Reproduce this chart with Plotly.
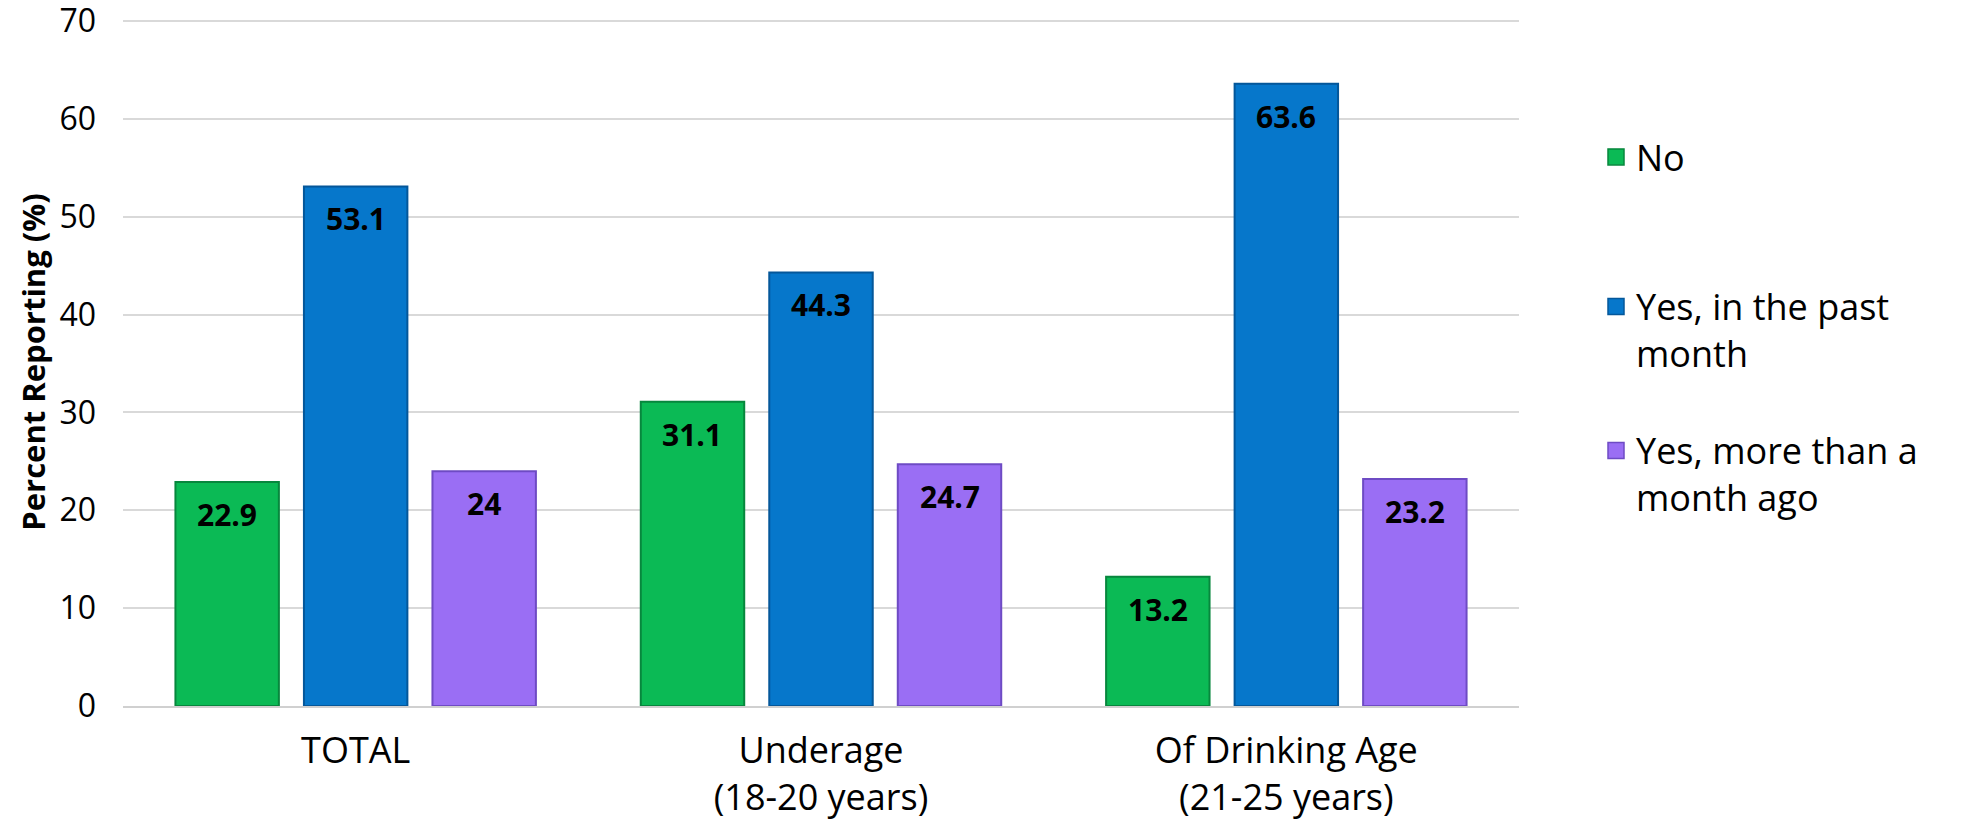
import plotly.graph_objects as go

# Survey groups and reported percentages
groups = ["TOTAL", "Underage<br>(18-20 years)", "Of Drinking Age<br>(21-25 years)"]
series_names = ["No", "Yes, in the past<br>month", "Yes, more than a<br>month ago"]
no_vals = [22.9, 31.1, 13.2]
past_month_vals = [53.1, 44.3, 63.6]
over_month_vals = [24, 24.7, 23.2]
y_ticks = [0, 10, 20, 30, 40, 50, 60, 70]

series_values = [no_vals, past_month_vals, over_month_vals]
fill_colors = ["#0BBA55", "#0677CB", "#9A6EF4"]
edge_colors = ["#07873D", "#04579A", "#6E4BC4"]
legend_ids = ["legend", "legend2", "legend3"]

FONT = "Open Sans"
W, H = 1969, 821
M_L, M_R, M_T, M_B = 123, 450, 18, 115
BARGAP, GROUPGAP = 0.1715, 0.195

plot_w = W - M_L - M_R
plot_h = H - M_T - M_B
# headroom of 3px above the top gridline so it is not clipped at the edge
y_max = y_ticks[-1] * plot_h / (plot_h - 3)

fig = go.Figure()

for name, vals, fc, ec in zip(series_names, series_values, fill_colors, edge_colors):
    fig.add_trace(go.Bar(
        x=groups, y=vals, name=name, showlegend=False,
        marker=dict(color=fc, line=dict(color=ec, width=2)),
        hoverinfo="skip",
    ))

# Legend-only swatches, one legend box per series
for name, fc, ec, lg in zip(series_names, fill_colors, edge_colors, legend_ids):
    fig.add_trace(go.Scatter(
        x=[None], y=[None], mode="markers", name=name, legend=lg,
        marker=dict(symbol="square", size=16, color=fc, line=dict(color=ec, width=1.5)),
    ))

# Value labels inside the top of each bar
slot = plot_w / len(groups) * (1 - BARGAP) / len(series_values)
for i, vals in enumerate(series_values):
    shift = (i - (len(series_values) - 1) / 2) * slot
    for g, v in zip(groups, vals):
        fig.add_annotation(
            x=g, y=v, text=f"<b>{v:g}</b>", showarrow=False,
            xanchor="center", yanchor="top", xshift=shift, yshift=-10,
            font=dict(family=FONT, size=30, color="#000000"),
        )

legend_common = dict(
    xanchor="left", yanchor="middle", valign="top",
    font=dict(family=FONT, size=36, color="#000000"),
    bgcolor="rgba(0,0,0,0)", borderwidth=0, itemwidth=30,
)
lx = (1596 - M_L) / plot_w
base = M_T + plot_h
fig.update_layout(
    width=W, height=H, autosize=False,
    margin=dict(l=M_L, r=M_R, t=M_T, b=M_B, autoexpand=False),
    paper_bgcolor="#ffffff", plot_bgcolor="#ffffff",
    barmode="group", bargap=BARGAP, bargroupgap=GROUPGAP,
    font=dict(family=FONT, color="#000000"),
    legend=dict(x=lx, y=(base - 157) / plot_h, **legend_common),
    legend2=dict(x=lx, y=(base - 330) / plot_h, **legend_common),
    legend3=dict(x=lx, y=(base - 474) / plot_h, **legend_common),
    xaxis=dict(
        automargin=False,
        showgrid=False, showline=True, linecolor="#d0d0d0", linewidth=2,
        ticks="", tickfont=dict(family=FONT, size=36, color="#000000"),
        ticklabelstandoff=12, ticklabeloverflow="allow",
    ),
    yaxis=dict(
        automargin=False,
        range=[0, y_max], tickvals=y_ticks, showgrid=True, gridcolor="#d9d9d9", gridwidth=2,
        zeroline=False, showline=False, ticks="",
        tickfont=dict(family=FONT, size=32, color="#000000"),
        ticklabelstandoff=26, ticklabeloverflow="allow",
        title=dict(text="<b>Percent Reporting (%)</b>", font=dict(family=FONT, size=31, color="#000000"), standoff=4),
    ),
)

fig.write_html("out.html")
